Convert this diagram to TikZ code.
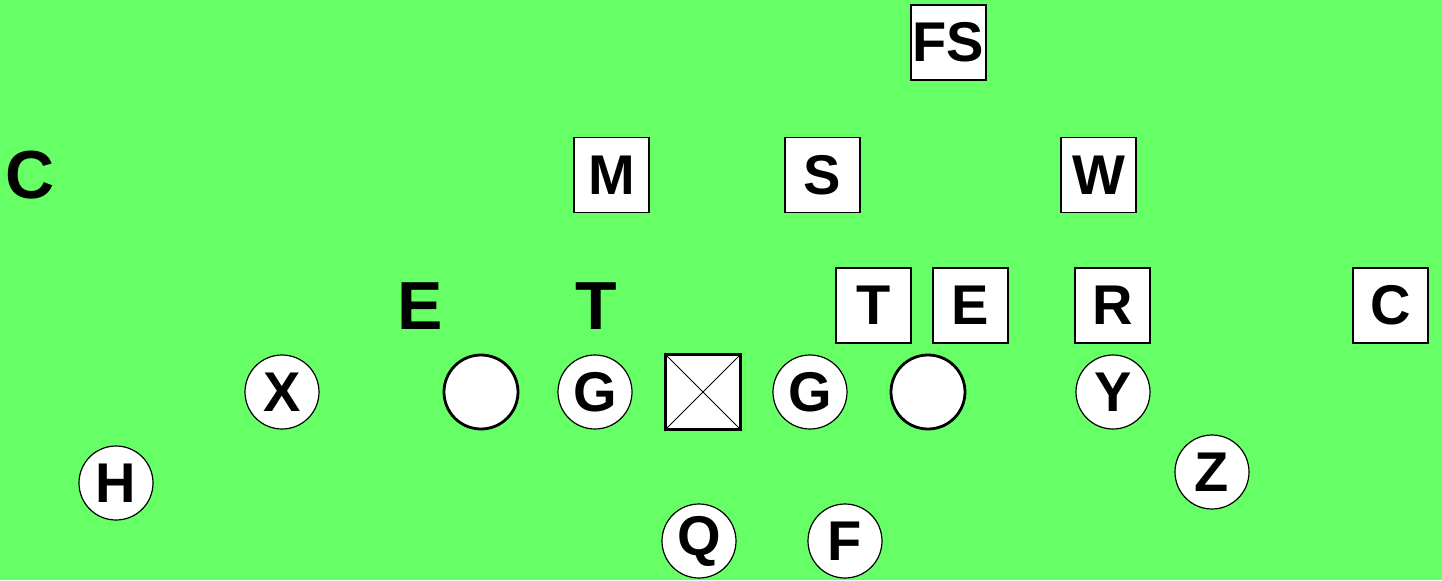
\documentclass[tikz,border=0pt]{standalone}
\usepackage{fontspec}
\setmainfont{Liberation Sans}
\definecolor{field}{HTML}{66FF66}
\begin{document}
\begin{tikzpicture}[x=0.5pt,y=-0.5pt,
  defbox/.style={draw=black,fill=white,line width=0.7pt,minimum size=37.5pt,inner sep=0pt,font=\fontsize{28}{28}\selectfont\bfseries},
  offcirc/.style={circle,draw=black,fill=white,line width=0.6pt,minimum size=37pt,inner sep=0pt,font=\fontsize{28}{28}\selectfont\bfseries},
  linecirc/.style={offcirc,line width=1.4pt},
  freelet/.style={inner sep=0pt,font=\fontsize{34}{34}\selectfont\bfseries},
  ctrbox/.style={draw=black,fill=white,line width=1.4pt,minimum size=37.5pt,inner sep=0pt}]
\fill[field] (0,0) rectangle (1442,580);
\useasboundingbox (0,0) rectangle (1442,580);
% defense
\node[defbox] (fs) at (948.5,42.5) {FS};
\node[defbox] (m) at (611.5,175) {M};
\node[defbox] (s) at (822.5,175) {S};
\node[defbox] (w) at (1098.5,175) {W};
\node[defbox] (dt) at (873.5,305.5) {T};
\node[defbox] (de) at (970.5,305.5) {E};
\node[defbox] (r) at (1112.5,305.5) {R};
\node[defbox] (cr) at (1390.5,305.5) {C};
\node[freelet] (cl) at (30,175) {C};
\node[freelet] (el) at (420,306) {E};
\node[freelet] (tl) at (596,306) {T};
% offense
\node[offcirc] (x) at (282,392) {X};
\node[linecirc] (lt) at (481,392) {};
\node[offcirc] (lg) at (595,392) {G};
\node[ctrbox] (c) at (703,392) {};
\draw[line width=0.5pt] (c.north west) -- (c.south east) (c.north east) -- (c.south west);
\node[offcirc] (rg) at (810,392) {G};
\node[linecirc] (rt) at (928,392) {};
\node[offcirc] (y) at (1113,392) {Y};
\node[offcirc] (h) at (116,483) {H};
\node[offcirc] (z) at (1212,472) {Z};
\node[offcirc] (q) at (699,541) {Q};
\node[offcirc] (f) at (845,541) {F};
\end{tikzpicture}
\end{document}
